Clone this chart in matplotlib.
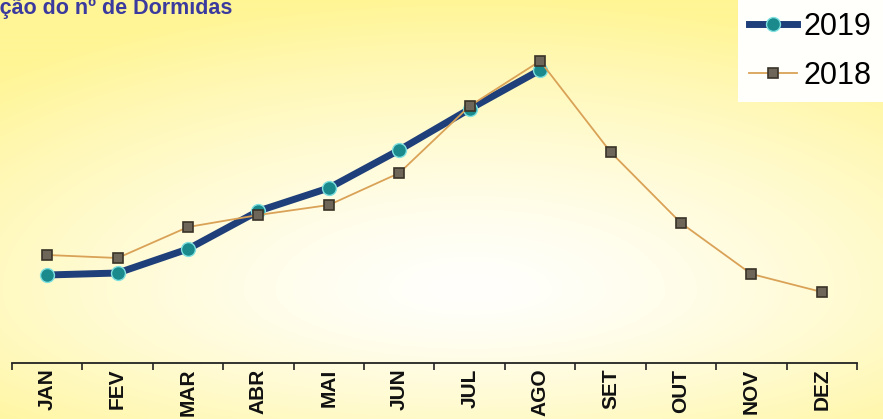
import numpy as np
import matplotlib
matplotlib.use("Agg")
import matplotlib.pyplot as plt
from matplotlib.lines import Line2D

# Monthly overnight stays (thousands)
months = ["JAN", "FEV", "MAR", "ABR", "MAI", "JUN", "JUL", "AGO", "SET", "OUT", "NOV", "DEZ"]
stays_2019 = [176, 180, 228, 304, 350, 426, 508, 586]
stays_2018 = [216, 210, 272, 296, 316, 380, 514, 604, 422, 280, 178, 142]
series_labels = ["2019", "2018"]
title_text = "Evolução do nº de Dormidas"

W, H, DPI = 883, 419, 100
fig = plt.figure(figsize=(W / DPI, H / DPI), dpi=DPI)
plt.rcParams["font.family"] = ["Liberation Sans", "DejaVu Sans"]

# Soft yellow-to-white background
bg = fig.add_axes([0, 0, 1, 1], zorder=-10)
yy, xx = np.mgrid[0:H, 0:W]
ry = np.where(yy < 290, 290.0, 210.0)
t = np.sqrt(((xx - 470) / 700.0) ** 2 + ((yy - 290) / ry) ** 2)
s = np.clip(t, 0, 1) ** 1.4
yellow = np.array([255, 245, 150]) / 255.0
white = np.array([255, 255, 252]) / 255.0
img = white[None, None, :] * (1 - s[..., None]) + yellow[None, None, :] * s[..., None]
bg.imshow(img, aspect="auto", extent=[0, W, H, 0])
bg.axis("off")

left, right, bottom = 12 / W, 857 / W, (H - 363) / H
ax = fig.add_axes([left, bottom, right - left, 1 - bottom])
ax.patch.set_alpha(0)

x19 = np.arange(len(stays_2019))
x18 = np.arange(len(stays_2018))
ax.plot(x19, stays_2019, color="#1f3f7a", lw=5.0, marker="o", ms=10,
        mfc="#1a8a8c", mec="#7fe0e0", mew=1.0, solid_capstyle="round",
        solid_joinstyle="round", zorder=3)
ax.plot(x18, stays_2018, color="#d9a257", lw=1.3, marker="s", ms=7,
        mfc="#6e6658", mec="#3a3328", mew=1.2, zorder=4)

ax.set_xlim(-0.5, len(months) - 0.5)
ax.set_ylim(0, 726)
for sp in ["top", "right", "left"]:
    ax.spines[sp].set_visible(False)
ax.spines["bottom"].set_linewidth(1.3)
ax.spines["bottom"].set_color("#222222")
ax.set_yticks([])

ax.set_xticks(np.arange(len(months) + 1) - 0.5)
ax.set_xticklabels([])
ax.tick_params(axis="x", which="major", length=5, width=1.2, color="#222222")
ax.set_xticks(np.arange(len(months)), minor=True)
ax.set_xticklabels(months, minor=True, rotation=90, fontsize=15,
                   fontweight="bold", color="#111111")
ax.tick_params(axis="x", which="minor", length=0, pad=4)

fig.text(232 / W, 1 - 14 / H, title_text, ha="right", va="baseline",
         fontsize=15.5, fontweight="bold", color="#3b3a9e")

handles = [
    Line2D([], [], color="#1f3f7a", lw=5.0, marker="o", ms=10, mfc="#1a8a8c",
           mec="#7fe0e0", mew=1.0),
    Line2D([], [], color="#d9a257", lw=1.3, marker="s", ms=7, mfc="#6e6658",
           mec="#3a3328", mew=1.2),
]
leg = fig.legend(handles, series_labels, loc="upper right",
                 bbox_to_anchor=(1.0, 1.0), fontsize=22, frameon=True,
                 fancybox=False, handlelength=1.57, handletextpad=0.2,
                 labelspacing=0.62, borderpad=0.38, borderaxespad=0.0)
leg.get_frame().set_facecolor("#fffffb")
leg.get_frame().set_edgecolor("none")
leg.get_frame().set_alpha(1.0)

fig.savefig("out.png", dpi=DPI)
